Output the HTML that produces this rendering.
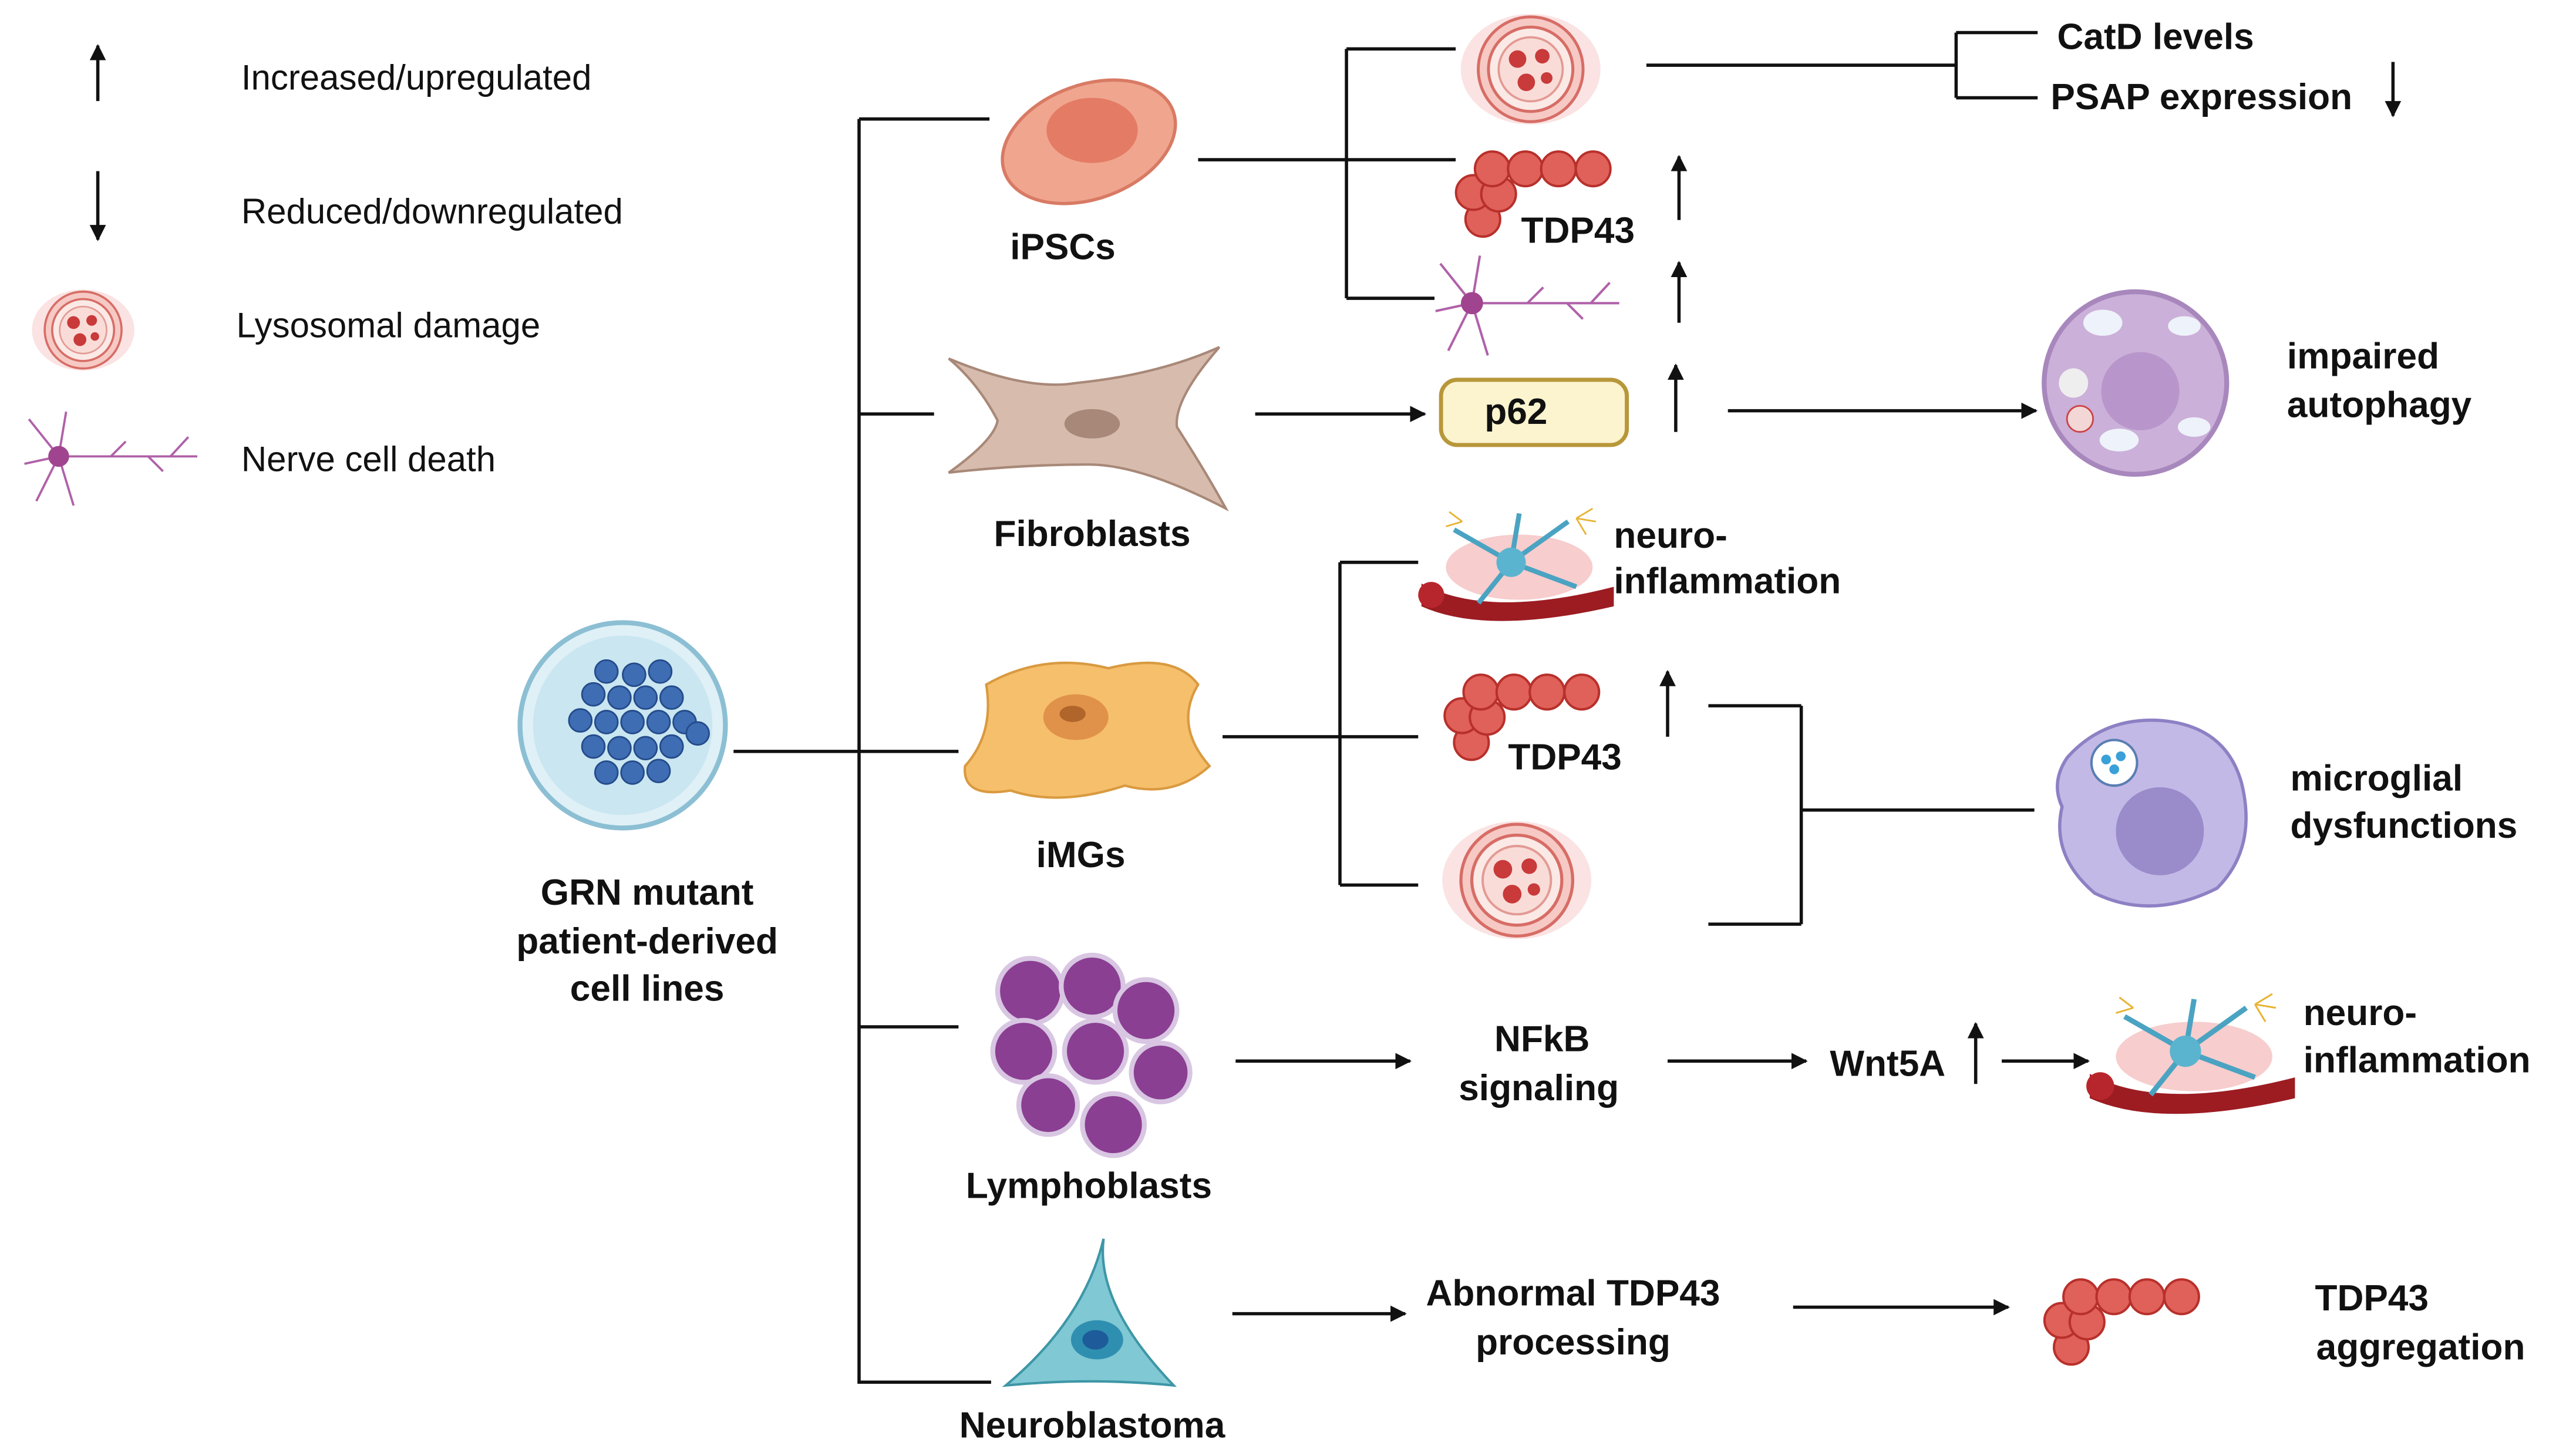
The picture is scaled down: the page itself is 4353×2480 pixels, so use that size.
<!DOCTYPE html>
<html><head><meta charset="utf-8"><style>
html,body{margin:0;padding:0;background:#fff}
svg{display:block}
text{font-family:"Liberation Sans",sans-serif;fill:#111}
.b{font-weight:bold;font-size:22.4px}
.l{font-size:21.6px}
</style></head><body>
<svg width="4353" height="2480" viewBox="0 0 1568 893.3" preserveAspectRatio="none" xmlns="http://www.w3.org/2000/svg">
<defs>
<marker id="ah" markerWidth="10" markerHeight="10" refX="9" refY="5" orient="auto" markerUnits="userSpaceOnUse"><path d="M0,0 L10,5 L0,10 z" fill="#111"/></marker>
<symbol id="lys" viewBox="-50 -42 100 84" overflow="visible">
<ellipse cx="0" cy="0" rx="48" ry="38" fill="#fbe3e3"/>
<circle r="36" fill="#f6c9c4" stroke="#d76d66" stroke-width="2"/>
<circle r="29" fill="#fbe9e6" stroke="#d76d66" stroke-width="2"/>
<circle r="22" fill="#f9dcd8" stroke="#e39a94" stroke-width="1.5"/>
<circle cx="-9" cy="-7" r="6" fill="#c93a3a"/><circle cx="8" cy="-9" r="5" fill="#c93a3a"/>
<circle cx="-3" cy="9" r="6" fill="#c93a3a"/><circle cx="11" cy="6" r="4" fill="#c93a3a"/>
</symbol>
<symbol id="tdp" viewBox="0 0 105 60" overflow="visible">
<g fill="#e0605a" stroke="#b8302b" stroke-width="1.5">
<circle cx="18" cy="44" r="11"/><circle cx="12" cy="27" r="11"/><circle cx="28" cy="28" r="11"/><circle cx="24" cy="12" r="11"/>
<circle cx="45" cy="12" r="11"/><circle cx="66" cy="12" r="11"/><circle cx="88" cy="12" r="11"/></g>
</symbol>
<symbol id="neu" viewBox="0 0 120 70" overflow="visible">
<g stroke="#b061a8" stroke-width="1.5" fill="none">
<path d="M25,35 L5,10 M25,35 L2,40 M25,35 L10,65 M25,35 L30,5 M25,35 L35,68 M25,35 L118,35 M60,35 L70,25 M85,35 L95,45 M100,35 L112,22"/>
</g><circle cx="25" cy="35" r="7" fill="#a1448f"/>
</symbol>
<symbol id="infl" viewBox="0 0 120 70" overflow="visible">
<path d="M0,48 Q40,70 118,50 L118,62 Q40,80 0,62 z" fill="#9c1c22"/>
<ellipse cx="6" cy="55" rx="8" ry="8" fill="#b8262d"/>
<ellipse cx="60" cy="38" rx="45" ry="20" fill="#f4b8b8" opacity="0.7"/>
<g stroke="#4ba3c2" stroke-width="3" fill="none"><path d="M55,35 L20,15 M55,35 L90,10 M55,35 L95,50 M55,35 L35,60 M55,35 L60,5"/></g>
<circle cx="55" cy="35" r="9" fill="#5bb4cf"/>
<g stroke="#e8b330" stroke-width="1"><path d="M95,8 l10,-6 M95,8 l12,2 M95,8 l6,10 M25,10 l-8,-6 M25,10 l-10,3"/></g>
</symbol>
</defs>

<g stroke="#111" stroke-width="2"><line x1="60" y1="62" x2="60" y2="28" marker-end="url(#ah)"/><line x1="60" y1="105" x2="60" y2="147" marker-end="url(#ah)"/></g>
<text class="l" x="148" y="55">Increased/upregulated</text>
<text class="l" x="148" y="137">Reduced/downregulated</text>
<use href="#lys" x="18" y="175" width="66" height="55"/>
<text class="l" x="145" y="207">Lysosomal damage</text>
<use href="#neu" x="12" y="248" width="112" height="64"/>
<text class="l" x="148" y="289">Nerve cell death</text>

<circle cx="382" cy="445" r="63" fill="#dff0f6" stroke="#8cbfd3" stroke-width="3"/>
<circle cx="382" cy="445" r="55" fill="#c9e6f1"/>
<g fill="#3e6db3" stroke="#244b8a" stroke-width="1">
<circle cx="372" cy="412" r="7"/><circle cx="389" cy="414" r="7"/><circle cx="405" cy="412" r="7"/>
<circle cx="364" cy="426" r="7"/><circle cx="380" cy="428" r="7"/><circle cx="396" cy="428" r="7"/><circle cx="412" cy="428" r="7"/>
<circle cx="356" cy="442" r="7"/><circle cx="372" cy="443" r="7"/><circle cx="388" cy="443" r="7"/><circle cx="404" cy="443" r="7"/><circle cx="420" cy="443" r="7"/>
<circle cx="364" cy="458" r="7"/><circle cx="380" cy="459" r="7"/><circle cx="396" cy="459" r="7"/><circle cx="412" cy="458" r="7"/><circle cx="428" cy="450" r="7"/>
<circle cx="372" cy="474" r="7"/><circle cx="388" cy="474" r="7"/><circle cx="404" cy="473" r="7"/></g>
<g class="b" text-anchor="middle"><text x="397" y="555">GRN mutant</text><text x="397" y="585">patient-derived</text><text x="397" y="614">cell lines</text></g>

<g stroke="#111" stroke-width="2" fill="none">
<line x1="450" y1="461" x2="588" y2="461"/>
<line x1="527" y1="73" x2="527" y2="849"/>
<line x1="527" y1="73" x2="607" y2="73"/><line x1="527" y1="254" x2="573" y2="254"/>
<line x1="527" y1="630" x2="588" y2="630"/><line x1="527" y1="848" x2="608" y2="848"/>
</g>

<ellipse cx="668" cy="87" rx="55" ry="35" transform="rotate(-20 668 87)" fill="#f0a58e" stroke="#d87a64" stroke-width="2"/>
<ellipse cx="670" cy="80" rx="28" ry="20" fill="#e47b64"/>
<text class="b" x="652" y="159" text-anchor="middle">iPSCs</text>
<path d="M582,220 Q630,240 660,235 Q710,230 748,213 Q720,245 722,262 Q740,290 752,312 Q700,285 668,285 Q625,285 582,290 Q610,270 612,258 Q600,235 582,220z" fill="#d7bcae" stroke="#a88878" stroke-width="1.5"/>
<ellipse cx="670" cy="260" rx="17" ry="9" fill="#a88878"/>
<text class="b" x="670" y="335" text-anchor="middle">Fibroblasts</text>
<path d="M605,420 Q640,400 680,410 Q720,400 735,420 Q720,445 742,470 Q720,490 690,482 Q650,495 620,485 Q590,490 592,470 Q610,450 605,420z" fill="#f6bf6c" stroke="#d99a40" stroke-width="1.5"/>
<ellipse cx="660" cy="440" rx="20" ry="14" fill="#e0924a"/><ellipse cx="658" cy="438" rx="8" ry="5" fill="#b0652a"/>
<text class="b" x="663" y="532" text-anchor="middle">iMGs</text>
<g fill="#8a3f92" stroke="#d8c6e2" stroke-width="3">
<circle cx="632" cy="608" r="20"/><circle cx="670" cy="605" r="19"/><circle cx="703" cy="620" r="19"/><circle cx="628" cy="645" r="19"/>
<circle cx="672" cy="645" r="19"/><circle cx="712" cy="658" r="18"/><circle cx="643" cy="678" r="18"/><circle cx="683" cy="690" r="19"/></g>
<text class="b" x="668" y="735" text-anchor="middle">Lymphoblasts</text>
<path d="M677,760 Q672,800 720,850 Q670,845 617,850 Q665,810 677,760z" fill="#7fc8d4" stroke="#3e96a6" stroke-width="1.5"/>
<ellipse cx="673" cy="822" rx="16" ry="12" fill="#2f8fb0"/><ellipse cx="672" cy="822" rx="8" ry="6" fill="#1d5b9a"/>
<text class="b" x="670" y="882" text-anchor="middle">Neuroblastoma</text>

<g stroke="#111" stroke-width="2" fill="none">
<line x1="735" y1="98" x2="826" y2="98"/><line x1="826" y1="30" x2="826" y2="183"/>
<line x1="826" y1="30" x2="893" y2="30"/><line x1="826" y1="98" x2="893" y2="98"/><line x1="826" y1="183" x2="880" y2="183"/>
<line x1="1010" y1="40" x2="1200" y2="40"/><line x1="1200" y1="20" x2="1200" y2="60"/>
<line x1="1200" y1="20" x2="1250" y2="20"/><line x1="1200" y1="60" x2="1250" y2="60"/>
<line x1="1468" y1="38" x2="1468" y2="71" marker-end="url(#ah)"/>
<line x1="1030" y1="135" x2="1030" y2="96" marker-end="url(#ah)"/>
<line x1="1030" y1="198" x2="1030" y2="161" marker-end="url(#ah)"/>
</g>
<use href="#lys" x="893" y="5" width="92" height="75"/>
<text class="b" x="1262" y="30">CatD levels</text>
<text class="b" x="1258" y="67">PSAP expression</text>
<use href="#tdp" x="892" y="92" width="102" height="58"/>
<text class="b" x="968" y="149" text-anchor="middle">TDP43</text>
<use href="#neu" x="876" y="152" width="122" height="68"/>

<g stroke="#111" stroke-width="2" fill="none">
<line x1="770" y1="254" x2="874" y2="254" marker-end="url(#ah)"/>
<line x1="1028" y1="265" x2="1028" y2="224" marker-end="url(#ah)"/>
<line x1="1060" y1="252" x2="1249" y2="252" marker-end="url(#ah)"/>
</g>
<rect x="884" y="233" width="114" height="40" rx="10" fill="#fbf4cf" stroke="#b8973a" stroke-width="2.5"/>
<text class="b" x="930" y="260" text-anchor="middle">p62</text>
<circle cx="1310" cy="235" r="56" fill="#cbb0d9" stroke="#a887bd" stroke-width="3"/>
<circle cx="1313" cy="240" r="24" fill="#b896cb"/>
<ellipse cx="1290" cy="198" rx="12" ry="8" fill="#eef2fa"/><ellipse cx="1340" cy="200" rx="10" ry="6" fill="#eef2fa"/>
<ellipse cx="1346" cy="262" rx="10" ry="6" fill="#eef2fa"/><ellipse cx="1300" cy="270" rx="12" ry="7" fill="#eef2fa"/>
<circle cx="1272" cy="235" r="9" fill="#eee"/><circle cx="1276" cy="257" r="8" fill="#f3d6d6" stroke="#c44" stroke-width="1"/>
<text class="b" x="1403" y="226">impaired</text><text class="b" x="1403" y="256">autophagy</text>

<g stroke="#111" stroke-width="2" fill="none">
<line x1="750" y1="452" x2="870" y2="452"/><line x1="822" y1="345" x2="822" y2="543"/>
<line x1="822" y1="345" x2="870" y2="345"/><line x1="822" y1="543" x2="870" y2="543"/>
<line x1="1023" y1="452" x2="1023" y2="412" marker-end="url(#ah)"/>
<line x1="1048" y1="433" x2="1105" y2="433"/><line x1="1105" y1="433" x2="1105" y2="567"/><line x1="1048" y1="567" x2="1105" y2="567"/>
<line x1="1105" y1="497" x2="1248" y2="497"/>
</g>
<use href="#infl" x="872" y="310" width="120" height="70"/>
<text class="b" x="990" y="336">neuro-</text><text class="b" x="990" y="364">inflammation</text>
<use href="#tdp" x="885" y="413" width="102" height="58"/>
<text class="b" x="960" y="472" text-anchor="middle">TDP43</text>
<use href="#lys" x="878" y="500" width="105" height="80"/>
<path d="M1268,465 Q1290,440 1325,442 Q1365,445 1375,480 Q1385,520 1360,545 Q1320,565 1285,548 Q1258,525 1265,495 Q1258,480 1268,465z" fill="#c3b9e6" stroke="#8e80c4" stroke-width="2"/>
<circle cx="1325" cy="510" r="27" fill="#9a8bcb"/>
<circle cx="1297" cy="468" r="14" fill="#fff" stroke="#5a7eb3" stroke-width="1.5"/>
<circle cx="1292" cy="466" r="3" fill="#3aa0d8"/><circle cx="1301" cy="464" r="3" fill="#3aa0d8"/><circle cx="1297" cy="472" r="3" fill="#3aa0d8"/>
<text class="b" x="1405" y="485">microglial</text><text class="b" x="1405" y="514">dysfunctions</text>

<g stroke="#111" stroke-width="2" fill="none">
<line x1="758" y1="651" x2="865" y2="651" marker-end="url(#ah)"/>
<line x1="1023" y1="651" x2="1108" y2="651" marker-end="url(#ah)"/>
<line x1="1212" y1="665" x2="1212" y2="628" marker-end="url(#ah)"/>
<line x1="1228" y1="651" x2="1281" y2="651" marker-end="url(#ah)"/>
</g>
<text class="b" x="946" y="645" text-anchor="middle">NFkB</text><text class="b" x="944" y="675" text-anchor="middle">signaling</text>
<text class="b" x="1158" y="660" text-anchor="middle">Wnt5A</text>
<use href="#infl" x="1282" y="600" width="128" height="90"/>
<text class="b" x="1413" y="629">neuro-</text><text class="b" x="1413" y="658">inflammation</text>

<g stroke="#111" stroke-width="2" fill="none">
<line x1="756" y1="806" x2="862" y2="806" marker-end="url(#ah)"/>
<line x1="1100" y1="802" x2="1232" y2="802" marker-end="url(#ah)"/>
</g>
<text class="b" x="965" y="801" text-anchor="middle">Abnormal TDP43</text><text class="b" x="965" y="831" text-anchor="middle">processing</text>
<use href="#tdp" x="1252" y="784" width="104" height="58"/>
<text class="b" x="1455" y="804" text-anchor="middle">TDP43</text><text class="b" x="1485" y="834" text-anchor="middle">aggregation</text>
</svg>
</body></html>
